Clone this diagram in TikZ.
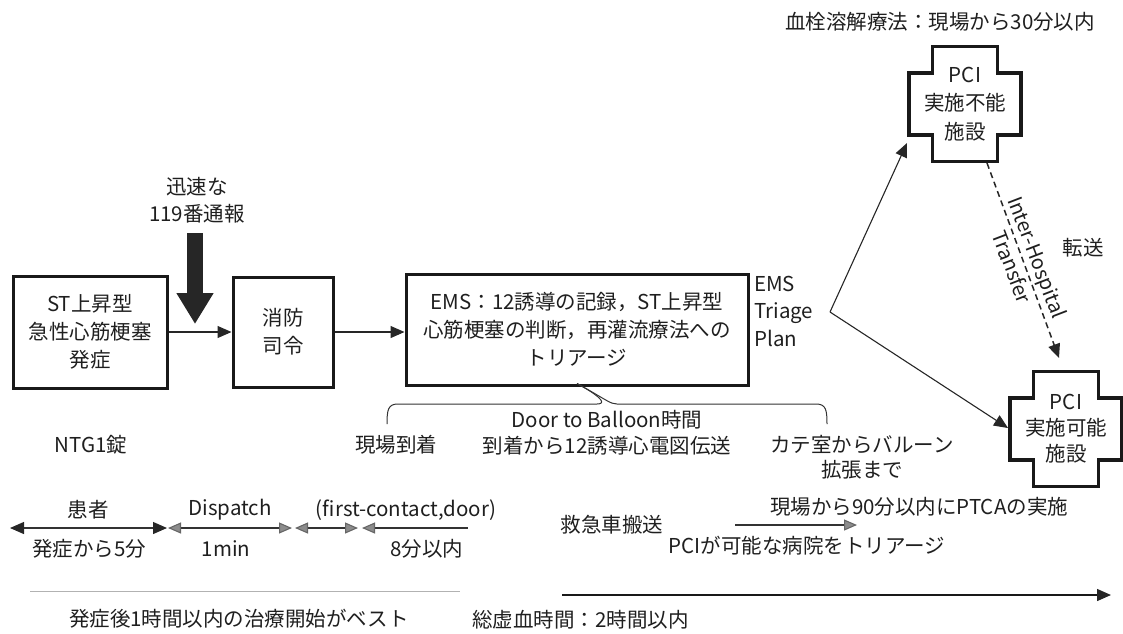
\documentclass[tikz,border=0pt]{standalone}
\usepackage{fontspec}
\setmainfont{Noto Sans CJK JP}
\usetikzlibrary{arrows.meta}
\tikzset{
  dk/.tip={Triangle[length=14pt,width=12pt,fill=black!85,color=black!85]},
  gy/.tip={Triangle[length=13pt,width=11pt,fill=black!45,color=black!60]},
}
\begin{document}
\begin{tikzpicture}[x=1pt,y=-1pt,
  every node/.style={font=\fontsize{20.5}{28}\selectfont, inner sep=0pt, align=center, text=black!88},
  box/.style={draw=black!90, line width=3pt},
  conn/.style={line width=1.1pt, draw=black!85, arrows={-dk}},
  tl/.style={line width=1.1pt, draw=black!80},
  crossline/.style={draw=black!90, line width=3.2pt, line join=miter},
  crossshape/.pic={\draw[crossline] (-32.5,-57.5) -- (32.5,-57.5) -- (32.5,-31) -- (56,-31) -- (56,31) -- (32.5,31) -- (32.5,57.5) -- (-32.5,57.5) -- (-32.5,31) -- (-56,31) -- (-56,-31) -- (-32.5,-31) -- cycle;}
]
\useasboundingbox (0,0) rectangle (1123,633);

% main boxes
\node[box, minimum width=154pt, minimum height=112pt] (b1) at (90,332) {ST上昇型\\急性心筋梗塞\\発症};
\node[box, minimum width=100pt, minimum height=110pt] (b2) at (283,332) {消防\\司令};
\node[box, minimum width=342pt, minimum height=111pt] (b3) at (577,329.5) {EMS：12誘導の記録，ST上昇型\\心筋梗塞の判断，再灌流療法への\\トリアージ};
\draw[conn] (b1.east) -- (b2.west |- b1.east);
\draw[conn] (b2.east) -- (b3.west |- b2.east);

% 119 call
\node[font=\fontsize{20.5}{27}\selectfont] (call) at (197,200) {迅速な\\119番通報};
\coordinate (hit) at (195,324);
\draw[line width=16pt, black!85, arrows={-Triangle[length=31pt,width=35pt]}, shorten <=10pt] (call.south -| hit) -- (hit);

% triage
\node[align=left, anchor=west, font=\fontsize{20.5}{27.5}\selectfont] (ems) at (754,311) {EMS\\Triage\\Plan};
\coordinate (split) at (830,312);
\coordinate (tip1) at (907,143);
\coordinate (tip2) at (1008,428);
\draw[conn] (split) -- (tip1);
\draw[conn] (split) -- (tip2);

% hospitals
\node[font=\fontsize{20.5}{28.5}\selectfont] (c1) at (965,104) {PCI\\実施不能\\施設};
\pic at (c1.center) {crossshape};
\node[font=\fontsize{20.5}{26}\selectfont] (c2) at (1066,429) {PCI\\実施可能\\施設};
\pic at (c2.center) {crossshape};
\node (lysis) at (940,22) {血栓溶解療法：現場から30分以内};

\coordinate (d1) at (987,163);
\coordinate (d2) at (1059,358);
\draw[conn, line width=1.5pt, dash pattern=on 6pt off 4pt] (d1) -- (d2);
\node[rotate=-69, font=\fontsize{20}{27}\selectfont] (iht) at (1025,262) {Inter-Hospital\\Transfer};
\node (tr) at (1083,248) {転送};

% brace
\coordinate (btip) at ([yshift=3pt]b3.south);
\draw[line width=1pt, black!80] (387,424) .. controls (387,410) and (388,404) .. (398,404) -- (597,404) .. controls (604,404) and (607,400) .. (btip);
\draw[line width=1pt, black!80] (btip) .. controls (607,400) and (610,404) .. (617,404) -- (816,404) .. controls (826,404) and (827,410) .. (827,424);
\node (dtb) at (607,420) {Door to Balloon時間};
\node (ecg) at (607,446) {到着から12誘導心電図伝送};
\node (arr) at (396,445) {現場到着};
\node[font=\fontsize{20.5}{25}\selectfont] (cath) at (862,457.5) {カテ室からバルーン\\拡張まで};
\node (ntg) at (91,445) {NTG1錠};

% bottom timeline
\node (pt) at (88,510) {患者};
\node (disp) at (230,510) {Dispatch};
\node (fcd) at (406,510) {(first-contact,door)};
\node (t5) at (89,549) {発症から5分};
\node (t1m) at (226,549) {1min};
\node (t8) at (427,549) {8分以内};
\coordinate (a0) at (10,528);
\coordinate (a1) at (167,528);
\coordinate (a2) at (168,528);
\coordinate (a3) at (292,528);
\coordinate (a4) at (295,528);
\coordinate (a5) at (358,528);
\coordinate (a6) at (362,528);
\coordinate (a7) at (468,528);
\draw[tl, arrows={dk-dk}] (a0) -- (a1);
\draw[tl, arrows={gy-gy}] (a2) -- (a3);
\draw[tl, arrows={gy-gy}] (a4) -- (a5);
\draw[tl, arrows={gy-}] (a6) -- (a7);

\node (amb) at (612,525) {救急車搬送};
\coordinate (m1) at (735,525);
\coordinate (m2) at (857,525);
\draw[tl, arrows={-gy}] (m1) -- (m2);
\node (ptca) at (919,507) {現場から90分以内にPTCAの実施};
\node (tri) at (807,546) {PCIが可能な病院をトリアージ};

\draw[line width=0.8pt, black!30] (30,591) -- (460,591);
\coordinate (l1) at (562,595);
\coordinate (l2) at (1111,595);
\draw[line width=1.3pt, draw=black!90, arrows={-dk}] (l1) -- (l2);
\node (best) at (239,619) {発症後1時間以内の治療開始がベスト};
\node[anchor=west] (total) at (472,620) {総虚血時間：2時間以内};
\end{tikzpicture}
\end{document}
